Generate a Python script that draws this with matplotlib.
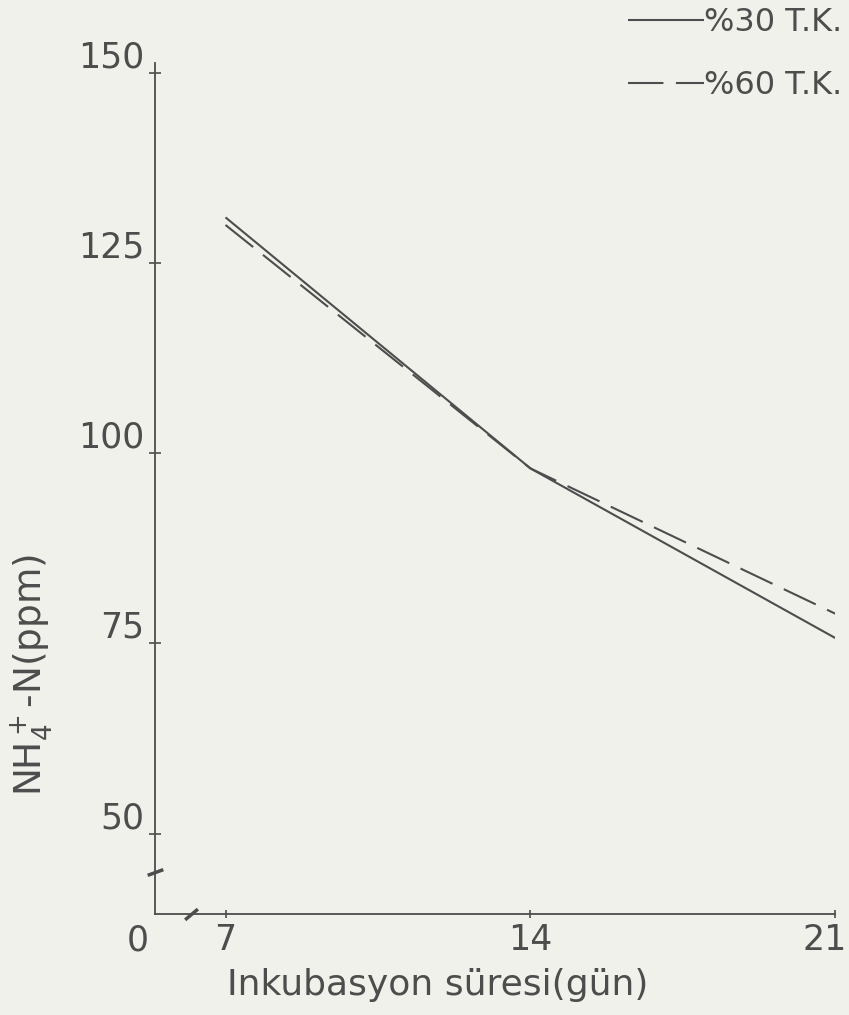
import matplotlib
matplotlib.use("Agg")
import matplotlib.pyplot as plt
from matplotlib.transforms import ScaledTranslation

# data
days = [7, 14, 21]
tk30 = [131.0, 98.0, 75.7]   # %30 T.K. (solid)
tk60 = [130.0, 98.0, 78.9]   # %60 T.K. (dashed)

x_ticks = [7, 14, 21]
x_ticklabels = ["7", "14", "21"]
y_ticks = [50, 75, 100, 125, 150]

# axis break positions
x_break = 6.2
y_break = 45

bg = "#f1f1ec"
ink = "#4d4d4d"

fig = plt.figure(figsize=(8.49, 10.15), dpi=100, facecolor=bg)
ax = fig.add_axes([0.183, 0.1, 0.801, 0.838])
ax.set_facecolor(bg)

ax.plot(days, tk30, color=ink, lw=1.5, solid_capstyle="butt")
ax.plot(days, tk60, color=ink, lw=1.5, dashes=(17, 6))

xmin, xmax = 5.39, 21.0
ymin, ymax = 39.5, 151.3
ax.set_xlim(xmin, xmax)
ax.set_ylim(ymin, ymax)

for s in ["top", "right"]:
    ax.spines[s].set_visible(False)
for s in ["left", "bottom"]:
    ax.spines[s].set_color(ink)
    ax.spines[s].set_linewidth(1.3)

ax.set_xticks(x_ticks)
ax.set_xticklabels(x_ticklabels, fontsize=25, color=ink)
ax.tick_params(axis="x", direction="inout", length=6, width=1.2, color=ink, pad=4)
# last label sits left of the axis end so it stays inside the page
last = ax.get_xticklabels()[-1]
last.set_ha("right")
last.set_transform(last.get_transform() + ScaledTranslation(8 / 72, 0, fig.dpi_scale_trans))

# "0" at the broken origin
ax.annotate("0", xy=(xmin, ymin), xytext=(-5, -7), textcoords="offset points",
            ha="right", va="top", fontsize=25, color=ink)

ax.set_yticks(y_ticks)
ax.set_yticklabels([])
ax.tick_params(axis="y", direction="inout", length=8, width=1.2, color=ink)
for v in y_ticks:
    ax.annotate(str(v), xy=(0, v), xycoords=("axes fraction", "data"),
                xytext=(-8, -1), textcoords="offset points",
                ha="right", va="bottom", fontsize=25, color=ink)

# break marks on the axes
ax.plot([x_break], [ymin], marker=(2, 0, -50), ms=12, mew=2.5,
        color=ink, clip_on=False)
ax.plot([xmin], [y_break], marker=(2, 0, -70), ms=12, mew=2.5,
        color=ink, clip_on=False)

fig.text(0.515, 0.03, "Inkubasyon süresi(gün)", ha="center", va="center",
         fontsize=26, color=ink)
fig.text(0.037, 0.335, r"NH$_4^+$-N(ppm)", rotation=90, ha="center", va="center",
         fontsize=27, color=ink)

# legend in the top right corner
leg = ax.legend(["%30 T.K.", "%60 T.K."], loc="upper right",
                bbox_to_anchor=(1.015, 1.012), bbox_transform=fig.transFigure,
                frameon=False, fontsize=23, handlelength=2.4, handletextpad=0.0,
                labelspacing=1.0, borderpad=0.1)
for t in leg.get_texts():
    t.set_color(ink)

fig.savefig("out.png", dpi=100, facecolor=bg)
